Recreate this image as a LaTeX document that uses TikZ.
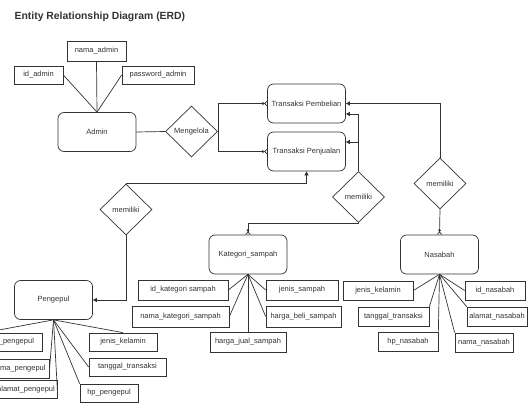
\documentclass[tikz,border=0pt]{standalone}
\usepackage{fontspec}
\setmainfont{Liberation Sans}
\usetikzlibrary{shapes.geometric,arrows.meta,calc}

\tikzset{
  entidad/.style={draw, rounded corners=6pt, minimum width=78pt, minimum height=39pt, inner sep=0pt},
  atributo/.style={draw, minimum height=19pt, inner sep=0pt},
  relacion/.style={draw, diamond, minimum width=52pt, minimum height=51pt, inner sep=0pt},
  flecha/.style={-{Triangle[length=4pt,width=4pt]}},
  muchos/.style={-{Circle[open,length=2.6pt,width=2.6pt] Straight Barb[reversed,length=2.2pt,width=4.4pt]}},
}

\begin{document}
\begin{tikzpicture}[x=1pt, y=-1pt, line width=0.7pt, color=black!80,
                    font=\fontsize{7.5}{9}\selectfont]
  \useasboundingbox (0,0) rectangle (528,407);
  \clip (0,0) rectangle (528,407);

  % Titulo
  \node[anchor=west, font=\bfseries\fontsize{10.4}{12}\selectfont] (titulo) at (11,16.5) {Entity Relationship Diagram (ERD)};

  % Entidades
  \node[entidad] (admin) at (97,132) {Admin};
  \node[entidad] (tbeli) at (306.5,103.5) {Transaksi Pembelian};
  \node[entidad] (tjual) at (306.5,151.5) {Transaksi Penjualan};
  \node[entidad] (pengepul) at (53.5,300) {Pengepul};
  \node[entidad] (kategori) at (248,254.5) {Kategori\_sampah};
  \node[entidad] (nasabah) at (439.5,254.5) {Nasabah};

  % Relaciones
  \node[relacion] (mengelola) at (191.5,131.5) {Mengelola};
  \node[relacion] (memNas) at (440,183.5) {memiliki};
  \node[relacion] (memKat) at (358.5,197) {memiliki};
  \node[relacion] (memPen) at (126,209.5) {memiliki};

  % Atributos de Admin
  \node[atributo, minimum width=49pt, minimum height=18pt] (idAdm) at (38.5,75) {id\_admin};
  \node[atributo, minimum width=59pt, minimum height=20pt] (namaAdm) at (96.5,51) {nama\_admin};
  \node[atributo, minimum width=72pt, minimum height=18pt] (passAdm) at (158,75) {password\_admin};

  % Atributos de Pengepul
  \node[atributo, minimum width=57pt, minimum height=18pt] (idPen) at (13.5,342) {id\_pengepul};
  \node[atributo, minimum width=61pt] (namaPen) at (18.7,368.5) {nama\_pengepul};
  \node[atributo, minimum width=62pt, minimum height=18pt] (alamatPen) at (26,389.5) {alamat\_pengepul};
  \node[atributo, minimum width=68pt, minimum height=18pt] (jkPen) at (123,342) {jenis\_kelamin};
  \node[atributo, minimum width=77pt, minimum height=18pt] (tglPen) at (127.5,367) {tanggal\_transaksi};
  \node[atributo, minimum width=58pt, minimum height=18pt] (hpPen) at (109,393) {hp\_pengepul};

  % Atributos de Kategori_sampah
  \node[atributo, minimum width=90pt, minimum height=20pt] (idKat) at (183,290) {id\_kategori sampah};
  \node[atributo, minimum width=97pt, minimum height=21pt] (namaKat) at (180.5,316.5) {nama\_kategori\_sampah};
  \node[atributo, minimum width=76pt, minimum height=20pt] (jualKat) at (248,342) {harga\_jual\_sampah};
  \node[atributo, minimum width=72pt, minimum height=20pt] (jenisKat) at (302,290) {jenis\_sampah};
  \node[atributo, minimum width=75pt, minimum height=21pt] (beliKat) at (303.5,316.5) {harga\_beli\_sampah};

  % Atributos de Nasabah
  \node[atributo, minimum width=70pt] (jkNas) at (378,290.5) {jenis\_kelamin};
  \node[atributo, minimum width=71pt] (tglNas) at (393.5,316.5) {tanggal\_transaksi};
  \node[atributo, minimum width=60pt] (hpNas) at (408,341.5) {hp\_nasabah};
  \node[atributo, minimum width=58pt] (namaNas) at (484,342.5) {nama\_nasabah};
  \node[atributo, minimum width=60pt] (idNas) at (495,290.5) {id\_nasabah};
  \node[atributo, minimum width=60pt] (alamatNas) at (497,316.5) {alamat\_nasabah};

  % Lineas de atributos
  \foreach \t in {idAdm.east, namaAdm.south, passAdm.west} {
    \draw (admin.north) -- (\t);
  }
  \foreach \t in {idPen.north west, namaPen.east, alamatPen.east, hpPen.north west, tglPen.west, jkPen.north} {
    \draw (pengepul.south) -- (\t);
  }
  \foreach \t in {idKat.east, namaKat.east, jualKat.north, jenisKat.west, beliKat.west} {
    \draw (kategori.south) -- (\t);
  }
  \foreach \t in {jkNas.east, tglNas.north east, hpNas.north east, namaNas.north west, alamatNas.north west, idNas.west} {
    \draw (nasabah.south) -- (\t);
  }

  % Conectores de relaciones
  \draw (admin.east) -- (mengelola.west);
  \draw[muchos] (mengelola.east) |- (tbeli.west);
  \draw[muchos] (mengelola.east) |- (tjual.west);
  \draw[flecha] (memNas.north) |- (tbeli.east);
  \draw[muchos] (memNas.south) -- (nasabah.north);
  \draw[flecha] (memKat.north) |- ($(tbeli.east)+(0,10.5)$);
  \draw[flecha] (memKat.north) |- ($(tjual.east)+(0,-9.5)$);
  \draw[muchos] (memKat.south) -| (kategori.north);
  \draw[flecha] (memPen.north) -| (tjual.south);
  \draw[flecha] (memPen.south) |- (pengepul.east);
\end{tikzpicture}
\end{document}
